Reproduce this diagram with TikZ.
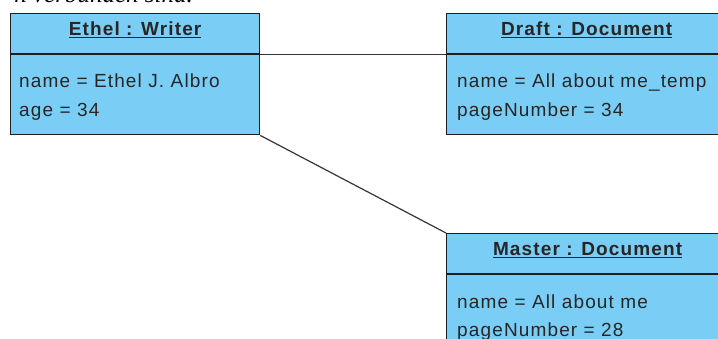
\documentclass[tikz,border=0pt]{standalone}
\usepackage{fontspec}
\usepackage{tikz}
\usetikzlibrary{positioning}
\usepackage{xcolor}

\newfontfamily\uifont{Liberation Sans}[LetterSpace=6]
\newfontfamily\docfont{Liberation Serif}
\definecolor{objfill}{RGB}{122,206,245}
\definecolor{objline}{RGB}{30,30,30}

\begin{document}
\begin{tikzpicture}[
  x=1bp,y=-1bp,
  objhead/.style={
    draw=objline,fill=objfill,line width=1.2bp,
    anchor=north west,inner sep=0pt,
    minimum height=40bp,minimum width=#1,
    text height=13bp,text depth=9bp,
    font=\uifont\bfseries\fontsize{19bp}{29bp}\selectfont,
    text=black!85,
    },
  objbody/.style={
    draw=objline,fill=objfill,line width=1.2bp,
    inner sep=0pt,
    minimum height=80bp,minimum width=#1,
    },
  attr/.style={
    anchor=base west,inner sep=0pt,
    font=\uifont\fontsize{19bp}{29bp}\selectfont,
    text=black!85,
    },
  assoc/.style={draw=objline!90,line width=1.2bp},
  ]
  \useasboundingbox (0,0) rectangle (718,338);
  \clip (0,0) rectangle (718,338);

  \node[anchor=base east,inner sep=0pt,
        font=\docfont\itshape\fontsize{25bp}{30bp}\selectfont]
    (caption) at (193,2) {n verbunden sind.};

  % Ethel : Writer
  \node[objhead=249bp] (writerhead) at (10,13) {\underline{Ethel : Writer}};
  \node[objbody=249bp,below=0pt of writerhead] (writer) {};
  \node[attr] (writername)
    at ([xshift=9bp,yshift=-33bp]writer.north west) {name = Ethel J. Albro};
  \node[attr] (writerage)
    at ([xshift=9bp,yshift=-62bp]writer.north west) {age = 34};

  % Draft : Document
  \node[objhead=280bp] (drafthead) at (446,13) {\underline{Draft : Document}};
  \node[objbody=280bp,below=0pt of drafthead] (draft) {};
  \node[attr] (draftname)
    at ([xshift=11bp,yshift=-33bp]draft.north west) {name = All about me\_temp};
  \node[attr] (draftpages)
    at ([xshift=11bp,yshift=-62bp]draft.north west) {pageNumber = 34};

  % Master : Document
  \node[objhead=282bp] (masterhead) at (446,233) {\underline{Master : Document}};
  \node[objbody=282bp,below=0pt of masterhead] (master) {};
  \node[attr] (mastername)
    at ([xshift=11bp,yshift=-34bp]master.north west) {name = All about me};
  \node[attr] (masterpages)
    at ([xshift=11bp,yshift=-62bp]master.north west) {pageNumber = 28};

  \draw[assoc] (writerhead.south east) -- (drafthead.south west);
  \draw[assoc] (writer.south east) -- (masterhead.north west);
\end{tikzpicture}
\end{document}
